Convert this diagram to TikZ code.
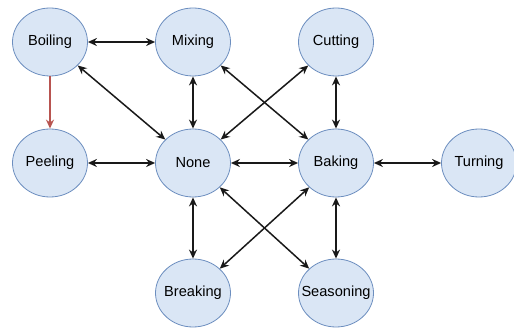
\documentclass[tikz,border=0pt]{standalone}
\usepackage{fontspec}
\setmainfont{Liberation Sans}
\usepackage{tikz}
\usetikzlibrary{arrows.meta, positioning, shapes.geometric}

\definecolor{stepfill}{RGB}{218,230,245}
\definecolor{stepline}{RGB}{108,142,191}
\definecolor{redline}{RGB}{184,84,80}

\tikzset{
    task/.style={ellipse, draw=stepline, fill=stepfill, line width=0.8pt,
        minimum width=75pt, minimum height=68pt, inner xsep=-15pt, inner ysep=0pt,
        font=\fontsize{14.6}{17}\selectfont},
    link/.style={<->, line width=1.5pt, black!90},
}

\begin{document}
\begin{tikzpicture}[node distance=143pt, >={Stealth[length=9pt,width=8pt]}]
    \useasboundingbox (-50pt,-289pt) rectangle (464pt,42pt);

    % top row
    \node[task] (boil) {Boiling};
    \node[task] (mix) [right of=boil] {Mixing};
    \node[task] (cut) [right of=mix] {Cutting};

    % middle row
    \node[task] (peel) [below of=boil, yshift=22pt] {Peeling};
    \node[task] (none) [right of=peel] {None};
    \node[task] (bake) [right of=none] {Baking};
    \node[task] (turn) [right of=bake] {Turning};

    % bottom row
    \node[task] (brk) [below of=none, yshift=13pt] {Breaking};
    \node[task] (season) [right of=brk] {Seasoning};

    \draw [link] (boil) -- (mix);
    \draw [link] (boil) -- (none);
    \draw [->, line width=1.5pt, redline] (boil) -- (peel);
    \draw [link] (mix) -- (none);
    \draw [link] (mix) -- (bake);
    \draw [link] (none) -- (cut);
    \draw [link] (cut) -- (bake);
    \draw [link] (peel) -- (none);
    \draw [link] (none) -- (bake);
    \draw [link] (bake) -- (turn);
    \draw [link] (none) -- (brk);
    \draw [link] (none) -- (season);
    \draw [link] (bake) -- (brk);
    \draw [link] (bake) -- (season);
\end{tikzpicture}
\end{document}
